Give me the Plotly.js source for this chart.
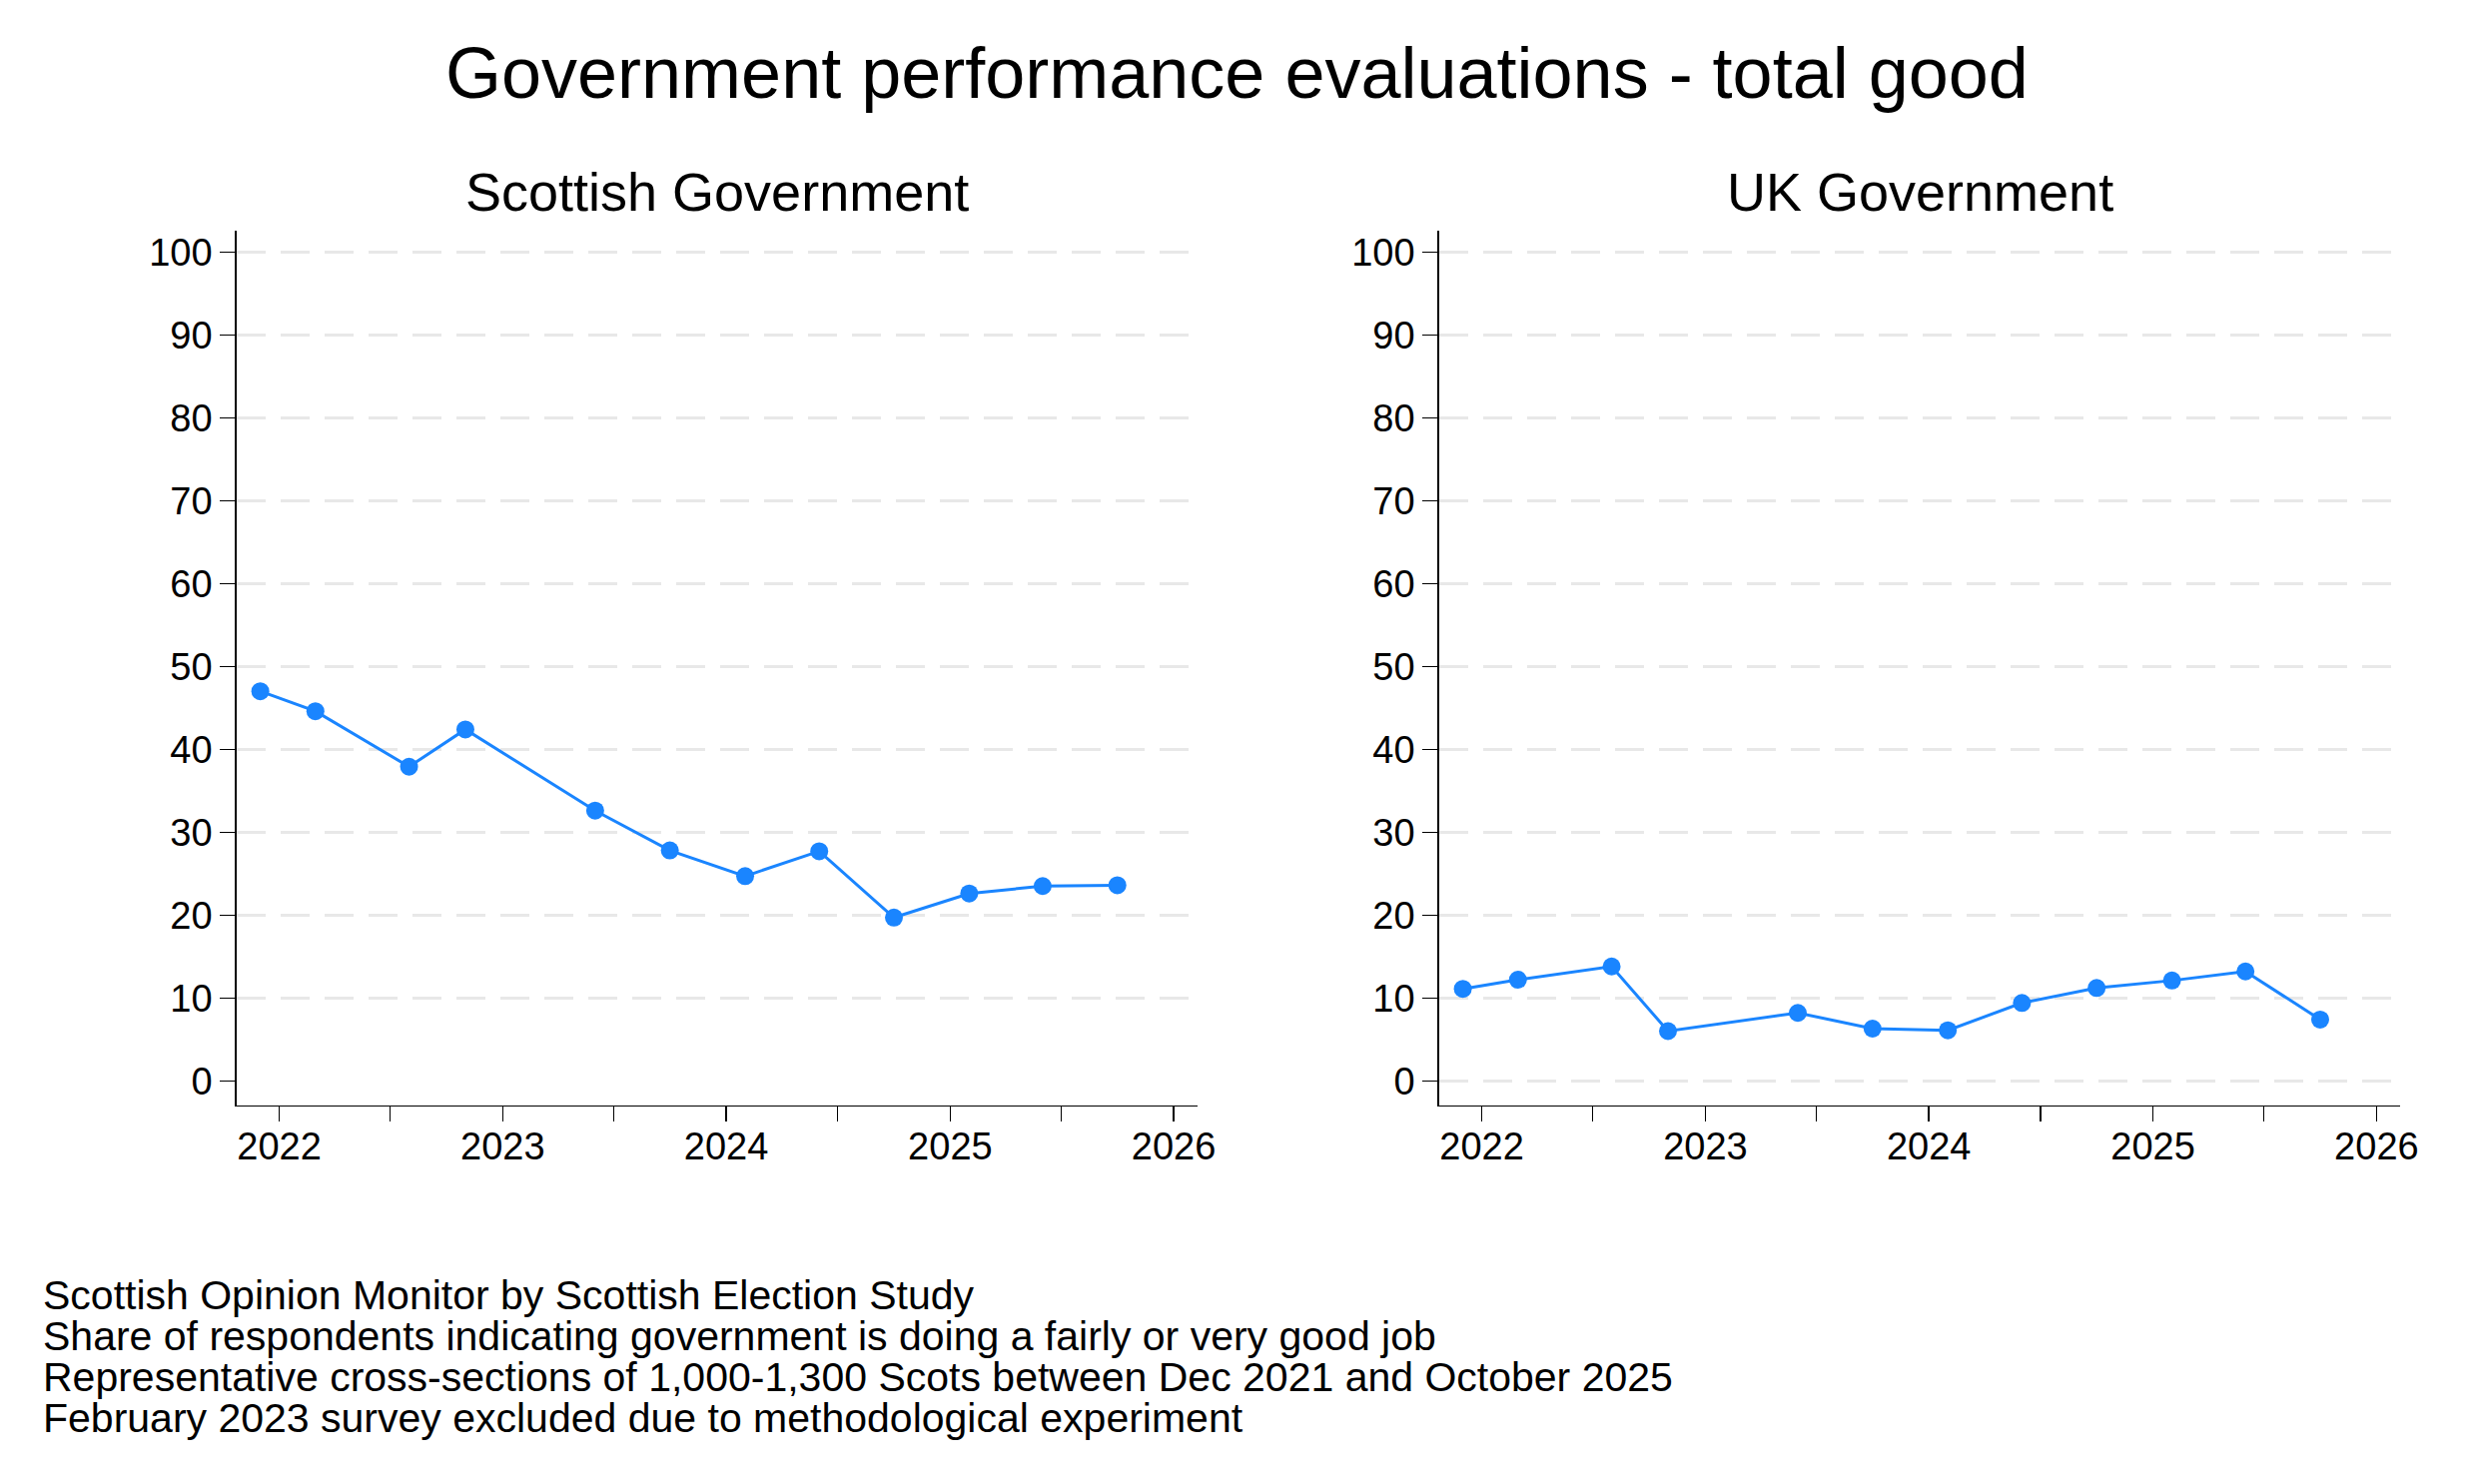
<!DOCTYPE html>
<html>
<head>
<meta charset="utf-8">
<script src="https://cdn.plot.ly/plotly-3.0.1.min.js"></script>
<style>html,body{margin:0;padding:0;background:#fff;}#chart{width:2476px;height:1486px;}</style>
</head>
<body>
<div id="chart"></div>
<script>
// Survey fieldwork dates (first of month)
const surveyDates = ['2021-12-01','2022-03-01','2022-08-01','2022-11-01','2023-06-01','2023-10-01',
                     '2024-02-01','2024-06-01','2024-10-01','2025-02-01','2025-06-01','2025-10-01'];
// Share saying fairly or very good job (%)
const scottishGov = [47.0, 44.6, 37.9, 42.4, 32.6, 27.8, 24.7, 27.7, 19.7, 22.6, 23.5, 23.6];
const ukGov       = [11.1, 12.2, 13.8, 6.0, 8.2, 6.3, 6.1, 9.4, 11.2, 12.1, 13.2, 7.4];
// Axis ticks
const xTickVals  = ['2022-01-01','2022-07-01','2023-01-01','2023-07-01','2024-01-01','2024-07-01','2025-01-01','2025-07-01','2026-01-01'];
const xTickText  = ['2022','','2023','','2024','','2025','','2026'];
const yTickVals  = [0,10,20,30,40,50,60,70,80,90,100];
const yGridLeft  = [10,20,30,40,50,60,70,80,90,100];
const panelTitles = ['Scottish Government', 'UK Government'];
const mainTitle = 'Government performance evaluations - total good';
const notes = [
  'Scottish Opinion Monitor by Scottish Election Study',
  'Share of respondents indicating government is doing a fairly or very good job',
  'Representative cross-sections of 1,000-1,300 Scots between Dec 2021 and October 2025',
  'February 2023 survey excluded due to methodological experiment'
];

const FONT = 'Liberation Sans, Arial, Helvetica, sans-serif';
const BLUE = '#1a85ff';
const W = 2476, H = 1486;
const xRange = ['2021-10-23', '2026-02-09'];
const yRange = [-2.94, 102.57];
const yDom = [1 - 1106.7 / H, 1 - 231 / H];

function lineTrace(y, xa, ya) {
  return {
    x: surveyDates, y: y, xaxis: xa, yaxis: ya,
    type: 'scatter', mode: 'lines+markers',
    line: {color: BLUE, width: 3},
    marker: {color: BLUE, size: 18},
    hoverinfo: 'skip', showlegend: false
  };
}

const xBase = {
  type: 'date', range: xRange, tickmode: 'array', tickvals: xTickVals, ticktext: xTickText,
  ticks: 'outside', ticklen: 15, tickwidth: 1.5, tickcolor: '#000',
  showline: true, linecolor: '#000', linewidth: 1.5, showgrid: false, zeroline: false,
  tickfont: {family: FONT, size: 38, color: '#000'}, ticklabelstandoff: -8,
  automargin: false, fixedrange: true
};
const gridStyle = {gridcolor: '#e8e8e8', gridwidth: 3, griddash: '29px,15px'};
const yBase = {
  range: yRange, tickmode: 'array', tickvals: yTickVals,
  ticks: 'outside', ticklen: 15, tickwidth: 1.5, tickcolor: '#000',
  showline: true, linecolor: '#000', linewidth: 1.5, zeroline: false,
  tickfont: {family: FONT, size: 38, color: '#000'}, ticklabelstandoff: 0,
  automargin: false, fixedrange: true, domain: yDom
};

const data = [
  lineTrace(scottishGov, 'x', 'y'),
  lineTrace(ukGov, 'x2', 'y2')
];

const annotations = [];
annotations.push({text: mainTitle, xref: 'paper', yref: 'paper', x: 0.5, y: 1 - 73.5 / H,
  xanchor: 'center', yanchor: 'middle', showarrow: false, font: {family: FONT, size: 72, color: '#000'}});
const panelCenters = [(236.7 + 1199) / 2 / W, (1440.7 + 2403.3) / 2 / W];
panelTitles.forEach((t, i) => annotations.push({text: t, xref: 'paper', yref: 'paper',
  x: panelCenters[i], y: 1 - 192 / H, xanchor: 'center', yanchor: 'middle', showarrow: false,
  font: {family: FONT, size: 54, color: '#000'}}));
const noteCenters = [1297, 1338, 1379, 1420];
notes.forEach((t, i) => annotations.push({text: t, xref: 'paper', yref: 'paper',
  x: 41 / W, y: 1 - noteCenters[i] / H, xanchor: 'left', yanchor: 'middle', showarrow: false,
  font: {family: FONT, size: 41, color: '#000'}}));

const layout = {
  width: W, height: H,
  margin: {l: 0, r: 0, t: 0, b: 0, pad: 0},
  paper_bgcolor: '#fff', plot_bgcolor: 'rgba(0,0,0,0)',
  showlegend: false,
  xaxis: Object.assign({}, xBase, {domain: [236.7 / W, 1199 / W], anchor: 'y'}),
  yaxis: Object.assign({}, yBase, {anchor: 'x', showgrid: false}),
  yaxis3: Object.assign({}, gridStyle, {overlaying: 'y', anchor: 'x', range: yRange, tickmode: 'array',
    tickvals: yGridLeft, showgrid: true, showticklabels: false, ticks: '', showline: false,
    zeroline: false, domain: yDom, fixedrange: true}),
  xaxis2: Object.assign({}, xBase, {domain: [1440.7 / W, 2403.3 / W], anchor: 'y2'}),
  yaxis2: Object.assign({}, yBase, gridStyle, {anchor: 'x2', showgrid: true}),
  annotations: annotations
};

// invisible placeholder so the grid-only overlay axis is rendered
data.unshift({x: [surveyDates[0]], y: [null], xaxis: 'x', yaxis: 'y3', type: 'scatter', mode: 'markers',
  hoverinfo: 'skip', showlegend: false});

Plotly.newPlot('chart', data, layout, {displayModeBar: false, staticPlot: true});
</script>
</body>
</html>
